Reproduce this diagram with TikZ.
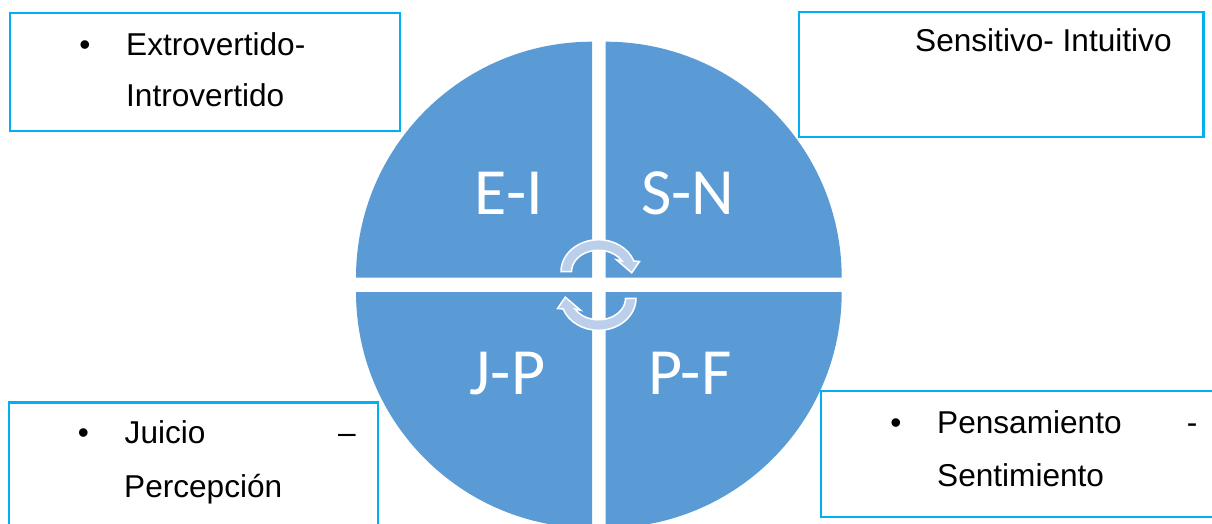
\documentclass[tikz,border=0pt]{standalone}
\usepackage{fontspec}
\setmainfont{Liberation Sans}
\newfontfamily\bigfont{Carlito}
\definecolor{quadblue}{HTML}{5B9BD5}
\definecolor{boxcyan}{HTML}{00B0F0}
\definecolor{arrowfill}{HTML}{BCCFEA}
\begin{document}
\begin{tikzpicture}[x=1pt,y=-1pt,
  quad/.style={fill=quadblue,draw=none},
  infobox/.style={draw=boxcyan,line width=2.4pt},
  boxtext/.style={inner sep=0pt,anchor=base west,font=\fontsize{31.6}{38}\selectfont},
  bullettext/.style={inner sep=0pt,anchor=base,font=\fontsize{31.6}{38}\selectfont},
  quadlabel/.style={inner sep=0pt,anchor=base,text=white,font=\bigfont\fontsize{66}{70}\selectfont},
  cyclearrow/.style={fill=arrowfill,draw=white,line width=1.5pt,line join=miter}]
\useasboundingbox (0,0) rectangle (1212,523);
\fill[white] (0,0) rectangle (1212,523);
% quadrants
\path[quad] (592,277.7) -- (356,277.7) arc[start angle=180,end angle=270,radius=236] -- cycle;
\path[quad] (605.7,277.7) -- (605.7,41.7) arc[start angle=270,end angle=360,radius=236] -- cycle;
\path[quad] (605.7,292) -- (841.7,292) arc[start angle=0,end angle=90,radius=236] -- cycle;
\path[quad] (592,292) -- (592,528) arc[start angle=90,end angle=180,radius=236] -- cycle;
% labels
\node[quadlabel] (ei) at (509,214.3) {E-I};
\node[quadlabel] (sn) at (687.5,214.3) {S-N};
\node[quadlabel] (jp) at (507.5,394) {J-P};
\node[quadlabel] (pf) at (690,394) {P-F};
% cycle arrows
\path[cyclearrow] (561,271.7) arc[start angle=180,end angle=340.5,x radius=37.5,y radius=32]
  -- (639.5,261.5) -- (631.7,272.8) -- (616.5,259.8) -- (621.9,260.95)
  arc[start angle=330,end angle=180,x radius=27,y radius=21.5] -- cycle;
\begin{scope}[rotate around={180:(598.5,285)}]
\path[cyclearrow] (561,271.7) arc[start angle=180,end angle=340.5,x radius=37.5,y radius=32]
  -- (639.5,261.5) -- (631.7,272.8) -- (616.5,259.8) -- (621.9,260.95)
  arc[start angle=330,end angle=180,x radius=27,y radius=21.5] -- cycle;
\end{scope}
% boxes
\draw[infobox] (10,12.7) rectangle (400,130.7);
\draw[infobox] (799,11.7) rectangle (1203.3,136.7);
\draw[infobox] (9,402.3) rectangle (377.7,535);
\draw[infobox] (821,391) rectangle (1225,516.7);
% box texts
\node[bullettext] (b1) at (85,55) {•};
\node[boxtext] (t1a) at (126,55) {Extrovertido-};
\node[boxtext] (t1b) at (126,106) {Introvertido};
\node[boxtext] (t2) at (915,51.7) {Sensitivo- Intuitivo};
\node[bullettext] (b3) at (83.3,443.3) {•};
\node[boxtext] (t3a) at (124.5,443.3) {Juicio};
\node[boxtext] (t3d) at (338,443.3) {–};
\node[boxtext] (t3b) at (124,497.3) {Percepción};
\node[bullettext] (b4) at (896,433.3) {•};
\node[boxtext] (t4a) at (937,433.3) {Pensamiento};
\node[boxtext] (t4d) at (1186.6,433.3) {-};
\node[boxtext] (t4b) at (937,486) {Sentimiento};
\end{tikzpicture}
\end{document}
